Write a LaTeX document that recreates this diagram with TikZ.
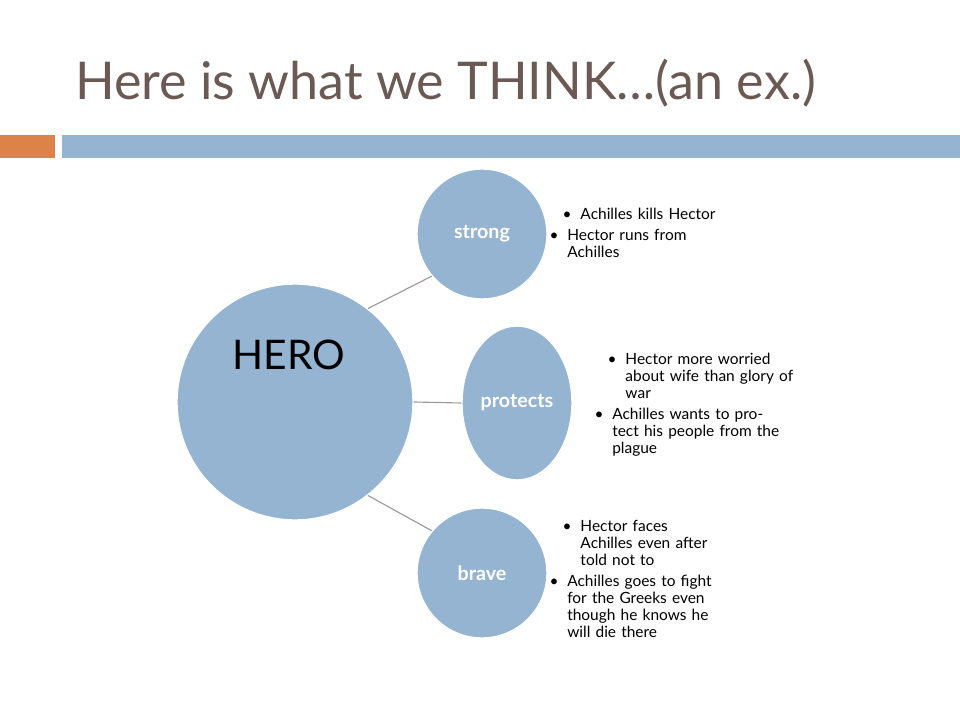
\documentclass[tikz,border=0pt]{standalone}
\usepackage{fontspec}
\setmainfont{Lato}
\usetikzlibrary{positioning,shapes.geometric}
\definecolor{bubble}{HTML}{94B4D2}
\definecolor{titlegray}{HTML}{6A5A53}
\definecolor{barorange}{HTML}{DD8249}
\tikzset{
  bubblenode/.style={fill=bubble, draw=white, line width=1pt, text=white, font=\fontsize{14}{16}\selectfont\bfseries},
  notes/.style={anchor=west, align=left, font=\fontsize{11}{12}\selectfont, text width=3.9cm, inner sep=0pt},
  link/.style={draw=gray!80, line width=0.8pt}
}
\newcommand{\itm}[1]{\par\leftskip=0.33cm\parskip=3pt\noindent\llap{\textbullet\hspace{0.22cm}}#1}
\begin{document}
\begin{tikzpicture}[x=0.025cm,y=-0.025cm]
  \useasboundingbox (0,0) rectangle (960,720);
  \node[anchor=base west, text=titlegray, inner sep=0pt, font=\fontsize{37}{40}\selectfont] (title) at (75,100) {Here is what we THINK…(an ex.)};
  \fill[barorange] (0,135) rectangle (55,158);
  \fill[bubble] (62,135) rectangle (960,158);

  \node[bubblenode, circle, minimum size=236*0.025cm] (hero) at (295,402) {};
  \node[text=black, font=\fontsize{29}{32}\selectfont] (herolabel) at (289,355) {HERO};
  \node[bubblenode, circle, minimum size=130*0.025cm] (strong) at (482,234) {strong};
  \node[bubblenode, ellipse, minimum width=110*0.025cm, minimum height=154*0.025cm, inner sep=0pt] (protects) at (517,403) {protects};
  \node[bubblenode, circle, minimum size=130*0.025cm] (brave) at (482,573) {brave};

  \draw[link] (hero.52) -- (strong.220);
  \draw[link] (hero.east) -- (protects.west);
  \draw[link] (hero.-52) -- (brave.140);

  \node[notes] (strongnotes) at (567,228) {\itm{Achilles kills Hector}\itm{Hector runs from Achilles}};
  \node[notes, text width=4.6cm] (protectsnotes) at (612,400) {\itm{Hector more worried about wife than glory of war}\itm{Achilles wants to protect his people from the plague}};
  \node[notes] (bravenotes) at (567,574) {\itm{Hector faces Achilles even after told not to}\itm{Achilles goes to fight for the Greeks even though he knows he will die there}};
\end{tikzpicture}
\end{document}
